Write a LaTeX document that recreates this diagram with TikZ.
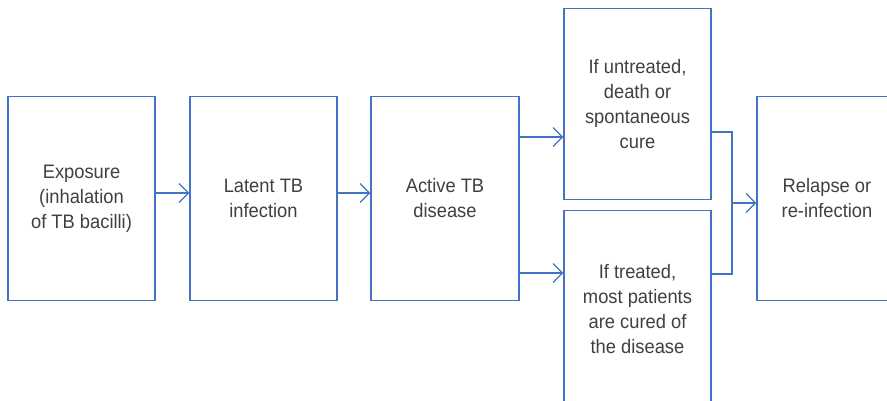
\documentclass[tikz,border=0pt]{standalone}
\usepackage{fontspec}
\setmainfont{Liberation Sans}[FakeStretch=0.94]
\usetikzlibrary{arrows.meta}
\definecolor{boxblue}{RGB}{68,114,196}
\definecolor{txtgray}{RGB}{64,64,64}
\tikzset{
  stagebox/.style={draw=boxblue, line width=1.2pt, rectangle, inner sep=0pt, align=center,
    text=txtgray, font=\fontsize{19.5}{25}\selectfont},
  flowline/.style={draw=boxblue, line width=1.2pt},
  flowarrow/.style={flowline, -{Straight Barb[length=9.5pt,width=19pt,line width=1.2pt]}}
}
\begin{document}
\begin{tikzpicture}[x=1pt,y=-1pt]
\clip (0,0) rectangle (887,401);
\fill[white] (0,0) rectangle (887,401);
\node[stagebox, minimum width=147pt, minimum height=204pt] (b1) at (81.5,198.5) {Exposure\\(inhalation\\of TB bacilli)};
\node[stagebox, minimum width=147pt, minimum height=204pt] (b2) at (263.5,198.5) {Latent TB\\infection};
\node[stagebox, minimum width=148pt, minimum height=204pt] (b3) at (445,198.5) {Active TB\\disease};
\node[stagebox, minimum width=147pt, minimum height=191pt] (b4) at (637.5,104) {If untreated,\\death or\\spontaneous\\cure};
\node[stagebox, minimum width=147pt, minimum height=196pt] (b5) at (637.5,308.7) {If treated,\\most patients\\are cured of\\the disease};
\node[stagebox, minimum width=140pt, minimum height=204pt] (b6) at (827,198.5) {Relapse or\\re-infection};
\coordinate (yA) at (0,193);
\coordinate (yB) at (0,137);
\coordinate (yC) at (0,273);
\coordinate (yD) at (0,132);
\coordinate (yE) at (0,274);
\coordinate (yF) at (0,203);
\coordinate (xJ) at (732,0);
\draw[flowarrow] (b1.east |- yA) -- (b2.west |- yA);
\draw[flowarrow] (b2.east |- yA) -- (b3.west |- yA);
\draw[flowarrow] (b3.east |- yB) -- (b4.west |- yB);
\draw[flowarrow] (b3.east |- yC) -- (b5.west |- yC);
\draw[flowline] (b4.east |- yD) -- (xJ |- yD) -- (xJ |- yE) -- (b5.east |- yE);
\draw[flowarrow] (xJ |- yF) -- (b6.west |- yF);
\end{tikzpicture}
\end{document}
